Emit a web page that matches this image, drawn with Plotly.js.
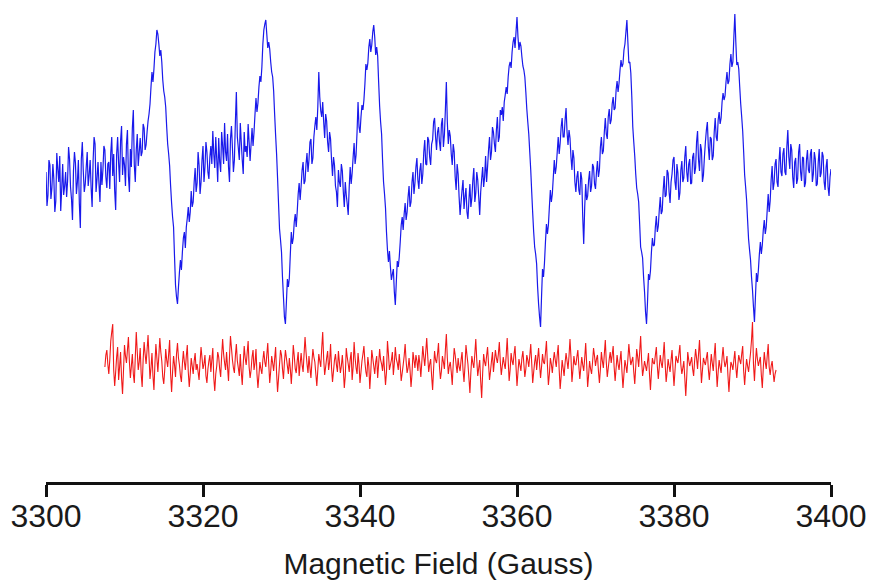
<!DOCTYPE html>
<html>
<head>
<meta charset="utf-8">
<script src="https://cdn.plot.ly/plotly-3.0.1.min.js"></script>
<style>html,body{margin:0;padding:0;background:#fff;}#chart{width:872px;height:588px;}</style>
</head>
<body>
<div id="chart"></div>
<script>
// Magnetic field sampling (Gauss)
const blueStartField = 3300;
const redStartField = 3307.5;
const fieldStep = 0.125;
const tickFields = [3300, 3320, 3340, 3360, 3380, 3400];
const tickLabels = ["3300", "3320", "3340", "3360", "3380", "3400"];

// EPR signal (blue), arbitrary units, one value per 0.125 G from 3300 G
const blueSignal = [
310,276,287,322,317,283,294,318,303,270,281,329,313,300,326,271,
293,318,287,296,310,285,301,335,323,295,283,262,311,330,319,288,
300,322,278,254,323,340,311,290,298,315,330,296,307,322,294,275,
321,345,338,290,303,320,298,280,320,297,312,336,332,305,294,318,
320,293,329,345,306,328,291,272,328,345,319,300,341,356,307,325,
317,296,338,352,306,290,333,315,354,372,317,300,332,348,316,330,
344,326,330,358,354,332,337,350,361,368,378,395,410,400,413,430,
438,452,448,438,426,432,420,402,391,385,375,355,338,328,316,296,
279,265,255,225,197,185,178,195,210,222,212,230,244,250,234,255,
264,275,260,270,291,275,280,300,314,290,299,330,317,288,300,322,
336,300,315,340,330,310,303,325,336,318,351,328,314,345,323,300,
344,320,310,350,336,318,359,330,321,348,315,300,343,356,334,310,
322,360,390,345,334,322,359,340,322,308,350,330,336,325,358,340,
321,338,354,336,350,368,384,370,379,395,406,400,415,438,452,458,
462,448,434,440,433,420,410,405,391,368,347,328,304,278,253,242,
230,205,185,165,158,180,203,195,204,228,250,238,244,260,268,255,
270,288,299,282,296,312,320,298,301,318,329,310,322,340,343,318,
324,345,356,365,352,375,410,385,371,365,380,360,344,368,361,340,
330,350,343,322,306,325,317,296,290,275,312,300,295,318,311,290,
275,300,287,278,267,295,315,298,309,325,339,318,327,350,380,355,
349,365,377,372,382,398,418,412,419,435,443,430,437,450,457,445,
427,435,426,400,376,360,348,322,300,288,274,250,232,220,231,215,
202,208,213,190,177,200,221,215,225,240,257,265,252,268,279,262,
270,285,296,275,280,300,310,288,299,315,324,302,293,312,319,298,
308,330,342,318,317,345,342,325,317,338,342,360,364,345,332,350,
355,340,331,358,364,335,347,372,400,360,338,352,346,328,317,338,
330,305,292,318,308,285,267,280,292,302,273,285,294,270,263,282,
298,275,284,302,314,280,289,310,302,285,267,290,303,315,295,305,
326,300,315,332,345,322,330,355,350,338,330,352,365,340,345,372,
367,375,361,380,387,395,388,405,416,420,414,430,440,445,434,450,
465,445,432,440,436,425,416,412,405,390,373,360,348,330,312,290,
269,250,235,228,218,195,178,165,155,185,213,205,219,240,258,248,
257,275,292,280,288,305,322,308,315,330,345,328,339,355,364,345,
345,362,374,350,337,352,344,325,312,332,324,300,290,305,311,292,
287,310,303,265,238,275,298,282,286,302,311,290,296,318,315,298,
293,310,321,305,312,335,345,328,331,350,364,348,343,365,373,358,
362,378,385,372,374,392,401,390,399,412,422,415,418,432,438,450,
462,440,419,420,409,385,355,340,326,308,294,288,280,258,235,230,
224,205,190,170,158,180,208,202,211,230,244,236,237,255,266,250,
256,272,285,268,271,292,306,285,287,312,309,290,279,300,308,322,
325,300,292,318,309,282,289,312,321,300,304,325,336,310,300,318,
323,298,299,325,329,308,314,340,351,322,311,338,332,300,307,325,
340,352,360,335,322,345,343,322,326,350,364,345,341,362,370,358,
364,380,389,382,386,400,410,398,401,418,428,415,420,445,468,440,
417,420,413,395,378,365,351,330,307,295,282,262,243,232,222,205,
192,175,160,185,209,200,212,228,240,228,237,252,262,248,255,272,
288,270,281,302,316,292,299,318,323,300,295,320,335,310,306,328,
334,310,307,335,352,325,313,338,332,305,294,320,324,298,303,330,
338,310,301,325,324,295,299,322,332,312,309,328,333,300,308,330,
323,296,298,320,333,305,309,330,326,300,292,315,323,295,286,305,
313
];

// Residual / noise trace (red), one value per 0.125 G from 3307.5 G
const redResidual = [
115,127,132,118,108,122,141,150,158,112,96,110,125,135,102,115,130,104,88,112,137,126,119,132,145,120,104,116,128,108,99,125,150,130,112,120,134,108,95,122,
140,128,118,132,147,125,103,114,129,106,92,118,138,124,110,126,144,130,121,105,98,112,133,122,115,128,142,108,90,110,126,117,105,128,139,124,117,106,100,118,
131,120,112,126,137,110,95,108,124,116,108,121,129,112,118,110,102,120,135,124,113,118,127,106,99,113,121,127,110,122,134,104,91,108,116,130,125,113,105,126,
143,128,119,112,130,115,101,125,146,134,122,114,109,126,138,121,114,106,128,110,97,118,136,124,117,129,141,115,104,112,125,132,112,119,133,108,94,107,120,113,
108,122,131,120,115,127,139,118,99,111,126,119,111,123,135,109,90,104,118,132,127,113,103,120,132,124,116,108,124,113,98,115,137,126,113,109,121,130,106,118,
129,117,110,128,145,130,118,109,126,114,104,120,133,125,120,108,96,112,128,121,115,134,150,123,107,115,124,131,112,120,138,114,100,111,122,128,117,110,131,120,
109,116,127,113,94,106,134,125,118,110,123,130,102,115,140,124,114,108,129,118,99,110,121,128,136,120,110,105,125,116,93,110,132,124,116,108,120,126,104,118,
133,122,118,111,126,112,97,110,141,128,112,117,122,130,107,119,135,123,119,112,128,116,101,109,117,126,138,121,109,114,124,112,95,108,130,122,114,127,121,111,
127,118,105,120,136,125,116,130,144,126,110,118,123,106,92,113,131,122,119,128,139,115,103,111,126,120,113,132,148,124,108,116,120,110,97,118,134,127,117,109,
124,115,111,122,130,112,100,116,137,127,118,104,89,110,126,119,114,128,143,122,106,114,122,101,84,109,128,120,116,126,135,118,102,111,121,130,110,121,132,124,
119,128,140,120,107,116,125,118,113,127,144,122,101,112,129,121,117,128,136,115,96,110,123,117,111,124,131,118,105,113,127,122,115,126,138,119,99,110,120,127,
112,123,134,118,104,115,128,120,118,129,141,117,97,108,124,118,109,121,130,122,115,127,137,112,93,106,122,114,106,119,129,121,113,126,143,125,100,112,126,118,
117,125,132,116,103,114,125,117,111,124,139,118,95,107,121,113,108,120,134,126,116,123,127,111,99,113,130,121,114,128,142,120,105,114,123,130,119,127,136,115,
101,114,127,118,112,122,131,110,94,108,122,116,109,123,138,126,117,121,125,110,98,115,133,125,115,130,146,122,106,113,121,116,111,120,129,108,92,110,124,119,
118,127,135,116,103,115,127,119,114,126,140,118,100,110,123,116,110,122,132,112,96,111,126,122,119,128,137,117,108,114,121,104,86,106,130,122,116,120,125,113,
106,121,133,124,113,128,142,120,99,112,124,120,117,124,130,113,102,115,128,119,111,126,139,115,95,110,122,115,109,124,135,122,115,119,126,106,90,108,120,117,
112,122,131,115,104,117,127,122,118,128,136,111,97,112,123,116,110,120,129,142,160,118,101,120,134,123,116,121,125,107,94,114,130,120,113,126,138,115,107,116,
121,110,100,108,112
];

const traces = [
  {
    type: 'scatter', mode: 'lines', name: 'spectrum',
    x0: blueStartField, dx: fieldStep, y: blueSignal,
    line: {color: 'rgb(25,25,235)', width: 1.2, simplify: false},
    hoverinfo: 'skip'
  },
  {
    type: 'scatter', mode: 'lines', name: 'residual',
    x0: redStartField, dx: fieldStep, y: redResidual,
    line: {color: 'rgb(240,25,25)', width: 1.1, simplify: false},
    hoverinfo: 'skip'
  }
];

const layout = {
  width: 872, height: 588,
  margin: {l: 46, r: 41, t: 0, b: 106, pad: 0},
  paper_bgcolor: '#ffffff', plot_bgcolor: '#ffffff',
  showlegend: false,
  font: {family: '"Liberation Sans", Arial, sans-serif', color: '#1a1a1a'},
  xaxis: {
    range: [3300, 3400],
    tickmode: 'array', tickvals: tickFields, ticktext: tickLabels,
    ticks: 'outside', ticklen: 12, tickwidth: 3, tickcolor: '#111',
    ticklabelstandoff: -8,
    showline: true, linewidth: 3, linecolor: '#111',
    showgrid: false, zeroline: false,
    tickfont: {size: 32, color: '#1a1a1a'},
    title: {text: 'Magnetic Field (Gauss)', font: {size: 30, color: '#1a1a1a'}, standoff: 20}
  },
  yaxis: {
    range: [0, 482], visible: false, showgrid: false, zeroline: false
  }
};

Plotly.newPlot('chart', traces, layout, {staticPlot: true, displayModeBar: false});
</script>
</body>
</html>
